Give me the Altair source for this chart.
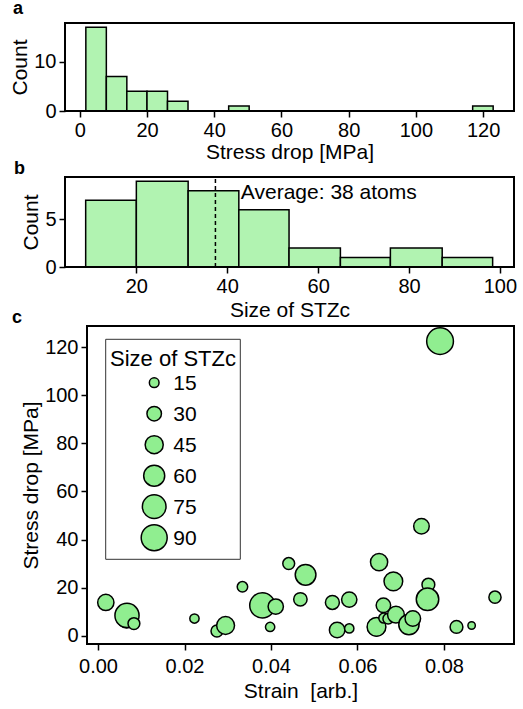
import altair as alt
import pandas as pd

# ---------------- data ----------------
# panel a: histogram of stress drop (non-empty bins)
a_lo = [1.8, 7.9, 14.0, 20.0, 26.1, 44.3, 116.9]
a_hi = [7.9, 14.0, 20.0, 26.1, 32.2, 50.4, 123.0]
a_counts = [17, 7, 4, 4, 2, 1, 1]

# panel b: histogram of STZc size
b_lo = [8.85, 20.0, 31.4, 42.55, 53.6, 64.9, 75.9, 87.3]
b_hi = [20.0, 31.4, 42.55, 53.6, 64.9, 75.9, 87.3, 98.4]
b_counts = [7, 9, 8, 6, 2, 1, 2, 1]
avg_size = 37.4
avg_label = "Average: 38 atoms"

# panel c: scatter (strain, stress drop, size of STZc)
strain = [0.0719, 0.0644, 0.0066,
          0.0018, 0.0067, 0.0083, 0.0223, 0.0275, 0.0295, 0.0334, 0.0380,
          0.0411, 0.0398, 0.0441, 0.0480, 0.0468, 0.0542, 0.0581, 0.0553,
          0.0581, 0.0650, 0.0683, 0.0748, 0.0764, 0.0762, 0.0918, 0.0829,
          0.0864, 0.0644, 0.0660, 0.0661, 0.0671, 0.0689, 0.0719, 0.0728,
          0.0791]
stress_drop = [4.6, 3.6, 7.0,
               13.8, 8.4, 5.0, 7.1, 1.9, 4.2, 20.3, 12.6,
               12.1, 3.6, 30.0, 25.3, 15.1, 13.8, 15.0, 2.3,
               3.0, 30.6, 22.6, 45.5, 21.2, 15.1, 16.0, 3.6,
               4.2, 3.6, 12.6, 7.3, 7.0, 8.7, 4.6, 7.1,
               122.6]
stzc_size = [50, 44, 46,
             37, 78, 21, 14, 21, 44, 17, 85,
             33, 14, 21, 58, 26, 28, 33, 34,
             14, 41, 48, 34, 24, 68, 22, 24,
             10, 48, 30, 16, 17, 39, 56, 34,
             95]
legend_values = [15, 30, 45, 60, 75, 90]
legend_title = "Size of STZc"

FONT = "Liberation Sans"
GREEN = "#90ee90"
BAR = "#b1f3b1"
W = 449


def panel_label(t, x, y):
    return alt.Chart(pd.DataFrame({"t": [t]})).mark_text(
        text=t, font=FONT, fontSize=18, fontWeight="bold", align="left",
        baseline="alphabetic", color="black"
    ).encode(x=alt.value(x), y=alt.value(y))


def frame(x0, x1, y0, y1, width=2, color="black", fill_opacity=0, fill="white"):
    return alt.Chart(pd.DataFrame({"f": [0]})).mark_rect(
        fill=fill, fillOpacity=fill_opacity, stroke=color, strokeWidth=width
    ).encode(x=alt.value(x0), x2=alt.value(x1), y=alt.value(y0), y2=alt.value(y1))


NOVIEW = alt.ViewBackground(stroke="transparent")

# ---------------- panel a ----------------
dfa = pd.DataFrame({"lo": a_lo, "hi": a_hi, "n": a_counts})
bars_a = alt.Chart(dfa).mark_bar(fill=BAR, stroke="black", strokeWidth=1.5).encode(
    x=alt.X("lo:Q", scale=alt.Scale(domain=[-4.4, 129.2], nice=False, zero=False),
            axis=alt.Axis(values=[0, 20, 40, 60, 80, 100, 120], title="Stress drop [MPa]",
                          titlePadding=1)),
    x2="hi:Q",
    y=alt.Y("n:Q", scale=alt.Scale(domain=[0, 17.85], nice=False),
            axis=alt.Axis(values=[0, 10], title="Count")),
    y2=alt.datum(0),
)
panel_a = alt.layer(bars_a, frame(0, W, 0, 88), panel_label("a", -52, -9)).properties(
    width=W, height=88, view=NOVIEW)

# ---------------- panel b ----------------
HB = 97
TB = 7
dfb = pd.DataFrame({"lo": b_lo, "hi": b_hi, "n": b_counts})
bars_b = alt.Chart(dfb).mark_bar(fill=BAR, stroke="black", strokeWidth=1.5).encode(
    x=alt.X("lo:Q", scale=alt.Scale(domain=[4.3, 103.1], nice=False, zero=False),
            axis=alt.Axis(values=[20, 40, 60, 80, 100], title="Size of STZc")),
    x2="hi:Q",
    y=alt.Y("n:Q", scale=alt.Scale(domain=[0, 9.45], nice=False, range=[HB, TB]),
            axis=alt.Axis(values=[0, 5], title="Count")),
    y2=alt.datum(0),
)
avg_rule = alt.Chart(pd.DataFrame({"m": [avg_size]})).mark_rule(
    color="black", strokeDash=[4, 3], strokeWidth=1.5
).encode(x=alt.datum(avg_size), y=alt.datum(0), y2=alt.datum(9.45))
avg_text = alt.Chart(pd.DataFrame({"t": [avg_label]})).mark_text(
    text=avg_label, font=FONT, fontSize=21, align="left", baseline="middle", color="black"
).encode(x=alt.datum(43.0), y=alt.datum(7.8))
panel_b = alt.layer(bars_b, avg_rule, avg_text, frame(0, W, TB, HB),
                    panel_label("b", -51, TB - 3)).properties(
    width=W, height=HB, view=NOVIEW)

# ---------------- panel c ----------------
XC = 22
size_scale = alt.Scale(domain=[15, 90], range=[94, 676], zero=False)
point_style = dict(shape="circle", filled=False, fill=GREEN, stroke="black",
                   strokeWidth=1.5, opacity=1, fillOpacity=1, strokeOpacity=1)

dfc = pd.DataFrame({"strain": strain, "stress": stress_drop, "size": stzc_size})
pts = alt.Chart(dfc).mark_point(**point_style).encode(
    x=alt.X("strain:Q",
            scale=alt.Scale(domain=[-0.00255, 0.0962], nice=False, zero=False, range=[XC, W]),
            axis=alt.Axis(values=[0, 0.02, 0.04, 0.06, 0.08], format=".2f",
                          title="Strain \u00a0[arb.]", labelPadding=6, titlePadding=4)),
    y=alt.Y("stress:Q", scale=alt.Scale(domain=[-3.5, 128.9], nice=False, zero=False),
            axis=alt.Axis(values=[0, 20, 40, 60, 80, 100, 120], title="Stress drop [MPa]",
                          offset=-XC)),
    size=alt.Size("size:Q", scale=size_scale, legend=None),
)

# size legend (box, title, symbols, labels) drawn inside the plot area
LX0, LX1, LY0, LY1 = XC + 18.7, XC + 153.3, 13.3, 233.3
leg_layers = [
    frame(LX0, LX1, LY0, LY1, width=1, color="#333333", fill_opacity=1),
    alt.Chart(pd.DataFrame({"t": [legend_title]})).mark_text(
        text=legend_title, font=FONT, fontSize=22, align="center",
        baseline="alphabetic", color="black"
    ).encode(x=alt.value((LX0 + LX1) / 2), y=alt.value(LY0 + 26.7)),
]
for i, v in enumerate(legend_values):
    yy = LY0 + 43.4 + 31 * i
    leg_layers.append(
        alt.Chart(pd.DataFrame({"size": [v]})).mark_point(**point_style).encode(
            x=alt.value(LX0 + 48.5), y=alt.value(yy),
            size=alt.Size("size:Q", scale=size_scale, legend=None)))
    leg_layers.append(
        alt.Chart(pd.DataFrame({"t": [str(v)]})).mark_text(
            text=str(v), font=FONT, fontSize=21, align="left", baseline="middle",
            color="black"
        ).encode(x=alt.value(LX0 + 67.5), y=alt.value(yy + 1)))

panel_c = alt.layer(pts, *leg_layers, frame(XC, W, 0, 318),
                    panel_label("c", XC - 75, -3)).properties(
    width=W, height=318, view=NOVIEW)

chart = alt.vconcat(panel_a, panel_b, panel_c, spacing=59, bounds="flush").resolve_scale(
    x="independent", y="independent", size="independent"
).properties(
    padding={"left": 9, "top": -1, "right": 5, "bottom": 5}, background="white"
).configure_view(
    stroke="transparent"
).configure_axis(
    domain=False, grid=False, ticks=True, tickColor="black", tickWidth=1.5, tickSize=6,
    labelFont=FONT, labelFontSize=20, labelColor="black", labelPadding=3,
    labelFlush=False, labelOverlap=False,
    titleFont=FONT, titleFontSize=21, titleFontWeight="normal", titleColor="black",
    titlePadding=3
)

chart.save("out.html", embed_options={"renderer": "svg", "actions": False})
